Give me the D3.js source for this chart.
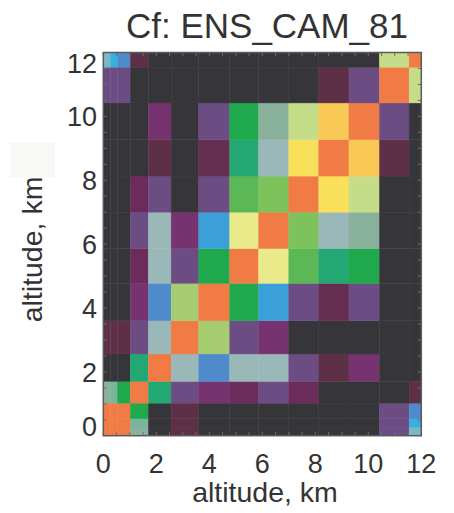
<!DOCTYPE html>
<html>
<head>
<meta charset="utf-8">
<script src="https://cdn.jsdelivr.net/npm/d3@7"></script>
<style>
  html, body { margin: 0; padding: 0; background: #ffffff; }
  svg { display: block; }
  text { font-family: "Liberation Sans", Arial, Helvetica, sans-serif; fill: #333333; }
</style>
</head>
<body>
<svg id="chart" width="454" height="513"></svg>
<script>
// Model level edges (km), shared by both axes
const levelEdges = [0, 0.27, 0.53, 1.02, 1.70, 2.56, 3.60, 4.77, 5.86, 7.00, 8.13, 9.27, 10.42, 11.54, 12.0];

// Correlation levels and their colours (low -> high)
const cfLevels = [0.00, 0.05, 0.10, 0.15, 0.20, 0.25, 0.30, 0.35, 0.40, 0.45, 0.50,
                  0.55, 0.57, 0.60, 0.65, 0.70, 0.75, 0.80, 0.85, 0.90, 0.93, 0.96, 1.00];
const cfColors = ["#363539", "#5e3047", "#652e51", "#6b2c5c", "#76336f", "#6b4d84", "#4f8bcb",
                  "#3ca0d8", "#35b0df", "#7bb7c6", "#9ab8b8", "#8ab19c", "#79b49b", "#24a873",
                  "#20a84c", "#5cb756", "#7ec25c", "#a6cc70", "#c5dd88", "#eaea8a", "#f9e05b",
                  "#f9c955", "#f07b45"];

// Cf matrix: rows are y levels (bottom to top), columns are x levels (left to right)
const cfRow00 = [1.00, 1.00, 1.00, 0.55, 0.00, 0.05, 0.00, 0.00, 0.00, 0.00, 0.00, 0.00, 0.25, 0.45];
const cfRow01 = [1.00, 1.00, 1.00, 0.57, 0.00, 0.05, 0.00, 0.00, 0.00, 0.00, 0.00, 0.00, 0.25, 0.40];
const cfRow02 = [1.00, 1.00, 1.00, 0.65, 0.00, 0.05, 0.00, 0.00, 0.00, 0.00, 0.00, 0.00, 0.25, 0.30];
const cfRow03 = [0.55, 0.57, 0.65, 1.00, 0.60, 0.25, 0.20, 0.15, 0.25, 0.15, 0.00, 0.00, 0.00, 0.05];
const cfRow04 = [0.00, 0.00, 0.00, 0.60, 1.00, 0.50, 0.30, 0.50, 0.50, 0.25, 0.05, 0.20, 0.00, 0.00];
const cfRow05 = [0.05, 0.05, 0.05, 0.25, 0.50, 1.00, 0.80, 0.25, 0.20, 0.00, 0.00, 0.00, 0.00, 0.00];
const cfRow06 = [0.00, 0.00, 0.00, 0.20, 0.30, 0.80, 1.00, 0.65, 0.35, 0.25, 0.10, 0.25, 0.00, 0.00];
const cfRow07 = [0.00, 0.00, 0.00, 0.15, 0.50, 0.25, 0.65, 1.00, 0.90, 0.70, 0.60, 0.65, 0.00, 0.00];
const cfRow08 = [0.00, 0.00, 0.00, 0.25, 0.50, 0.20, 0.35, 0.90, 1.00, 0.75, 0.50, 0.55, 0.00, 0.00];
const cfRow09 = [0.00, 0.00, 0.00, 0.15, 0.25, 0.00, 0.25, 0.70, 0.75, 1.00, 0.93, 0.85, 0.00, 0.00];
const cfRow10 = [0.00, 0.00, 0.00, 0.00, 0.05, 0.00, 0.10, 0.60, 0.50, 0.93, 1.00, 0.96, 0.05, 0.00];
const cfRow11 = [0.00, 0.00, 0.00, 0.00, 0.20, 0.00, 0.25, 0.65, 0.55, 0.85, 0.96, 1.00, 0.25, 0.00];
const cfRow12 = [0.25, 0.25, 0.25, 0.00, 0.00, 0.00, 0.00, 0.00, 0.00, 0.00, 0.05, 0.25, 1.00, 0.85];
const cfRow13 = [0.45, 0.40, 0.30, 0.05, 0.00, 0.00, 0.00, 0.00, 0.00, 0.00, 0.00, 0.00, 0.85, 1.00];
const cfMatrix = [cfRow00, cfRow01, cfRow02, cfRow03, cfRow04, cfRow05, cfRow06,
                  cfRow07, cfRow08, cfRow09, cfRow10, cfRow11, cfRow12, cfRow13];

const xTickLabels = [0, 2, 4, 6, 8, 10, 12];
const yTickLabels = [0, 2, 4, 6, 8, 10, 12];
const titleText = "Cf: ENS_CAM_81";
const axisTitle = "altitude, km";

const svg = d3.select("#chart");
const plot = { left: 103.3, right: 421.3, top: 52.5, bottom: 435.7 };

const x = d3.scaleLinear().domain([0, 12]).range([plot.left, plot.right]);
const y = d3.scaleLinear().domain([0, 12]).range([plot.bottom, plot.top]);
const color = d3.scaleOrdinal().domain(cfLevels).range(cfColors);

// faint box to the left of the y title
svg.append("rect").attr("x", 10).attr("y", 143).attr("width", 45).attr("height", 34)
  .attr("fill", "#f8f8f6");

// cells
const cells = [];
cfMatrix.forEach((row, r) => row.forEach((v, c) => cells.push({ r, c, v })));
svg.append("g").selectAll("rect").data(cells).join("rect")
  .attr("x", d => x(levelEdges[d.c]))
  .attr("y", d => y(levelEdges[d.r + 1]))
  .attr("width", d => x(levelEdges[d.c + 1]) - x(levelEdges[d.c]))
  .attr("height", d => y(levelEdges[d.r]) - y(levelEdges[d.r + 1]))
  .attr("fill", d => color(d.v))
  .attr("stroke", d => color(d.v))
  .attr("stroke-width", 0.4);

// minor ticks pointing inward on all sides
const minor = d3.range(0, 12.001, 0.5);
const tk = svg.append("g").attr("stroke", "#6e6e70").attr("stroke-width", 1);
minor.forEach(v => {
  tk.append("line").attr("x1", x(v)).attr("x2", x(v)).attr("y1", plot.bottom).attr("y2", plot.bottom - 3.5);
  tk.append("line").attr("x1", x(v)).attr("x2", x(v)).attr("y1", plot.top).attr("y2", plot.top + 3.5);
  tk.append("line").attr("y1", y(v)).attr("y2", y(v)).attr("x1", plot.left).attr("x2", plot.left + 3.5);
  tk.append("line").attr("y1", y(v)).attr("y2", y(v)).attr("x1", plot.right).attr("x2", plot.right - 3.5);
});

// frame
svg.append("rect")
  .attr("x", plot.left).attr("y", plot.top)
  .attr("width", plot.right - plot.left).attr("height", plot.bottom - plot.top)
  .attr("fill", "none").attr("stroke", "#5a5a5c").attr("stroke-width", 1.5);

// x tick labels
svg.append("g").selectAll("text").data(xTickLabels).join("text")
  .attr("x", d => x(d)).attr("y", 473)
  .attr("text-anchor", "middle").attr("font-size", 27)
  .text(d => d);

// y tick labels, kept inside the frame's vertical extent
const capH = 20;
svg.append("g").selectAll("text").data(yTickLabels).join("text")
  .attr("x", 97)
  .attr("y", d => Math.max(plot.top + capH, Math.min(plot.bottom, y(d) + capH / 2)))
  .attr("text-anchor", "end").attr("font-size", 27)
  .text(d => d);

// axis titles
svg.append("text").attr("x", 265).attr("y", 502)
  .attr("text-anchor", "middle").attr("font-size", 28.5).text(axisTitle);
svg.append("text").attr("transform", "translate(42,249.5) rotate(-90)")
  .attr("text-anchor", "middle").attr("font-size", 28.5).text(axisTitle);

// title
svg.append("text").attr("x", 267).attr("y", 38)
  .attr("text-anchor", "middle").attr("font-size", 35).text(titleText);
</script>
</body>
</html>
